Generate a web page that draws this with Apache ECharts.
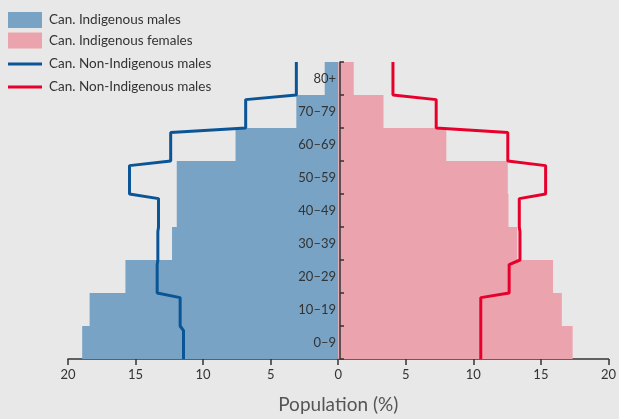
<!DOCTYPE html>
<html>
<head>
<meta charset="utf-8">
<script src="https://cdn.jsdelivr.net/npm/echarts@6/dist/echarts.min.js"></script>
<style>
  html, body { margin: 0; padding: 0; background: #e8e8e8; }
  #chart { width: 619px; height: 419px; }
</style>
</head>
<body>
<div id="chart"></div>
<script>
// age groups, bottom to top
const ageGroups = ['0–9', '10–19', '20–29', '30–39', '40–49', '50–59', '60–69', '70–79', '80+'];
// lower bound of each age group (years), used to place the step lines
const ageLower = [0, 10, 20, 30, 40, 50, 60, 70, 80];
const ageMax = 90;

// population share (%)
const indigenousMales = [18.95, 18.4, 15.75, 12.3, 11.95, 11.95, 7.6, 3.1, 1.0];
const indigenousFemales = [17.35, 16.55, 15.9, 13.25, 12.6, 12.55, 8.0, 3.35, 1.15];
const nonIndigenousMales = [11.45, 11.7, 13.4, 13.35, 13.3, 15.45, 12.4, 6.85, 3.1];
const nonIndigenousFemales = [10.55, 10.55, 12.65, 13.45, 13.4, 15.35, 12.55, 7.25, 4.05];

const legendLabels = {
  indMale: 'Can. Indigenous males',
  indFemale: 'Can. Indigenous females',
  nonIndMale: 'Can. Non-Indigenous males',
  nonIndFemale: 'Can. Non-Indigenous males'
};

const FONT = 'Lato';
const slant = 1.4; // years taken by the diagonal between two steps
const gridLeft = 68, gridRight = 7;
const plotWidth = 619 - gridLeft - gridRight;

// step line from top to bottom, with a short diagonal at each boundary
function stepLine(values, sign) {
  const pts = [];
  for (let i = values.length - 1; i >= 0; i--) {
    const top = i === values.length - 1 ? ageMax : ageLower[i + 1] - slant;
    pts.push([sign * values[i], top]);
    pts.push([sign * values[i], ageLower[i]]);
  }
  return pts;
}

const legendText = { fontFamily: FONT, fontSize: 13.5, color: '#333', padding: [0, 0, 0, 2] };

const chart = echarts.init(document.getElementById('chart'));
chart.setOption({
  backgroundColor: '#e8e8e8',
  textStyle: { fontFamily: FONT },
  animation: false,
  legend: [
    {
      data: ['indMale', 'indFemale'],
      orient: 'vertical',
      left: 8,
      top: 12,
      padding: 0,
      icon: 'rect',
      itemWidth: 34,
      itemHeight: 16,
      itemGap: 4.5,
      selectedMode: false,
      formatter: name => legendLabels[name],
      textStyle: legendText
    },
    {
      data: ['nonIndMale', 'nonIndFemale'],
      orient: 'vertical',
      left: 8,
      top: 57,
      padding: 0,
      icon: 'rect',
      itemWidth: 34,
      itemHeight: 3,
      itemGap: 9,
      selectedMode: false,
      formatter: name => legendLabels[name],
      textStyle: legendText
    }
  ],
  grid: { left: gridLeft, right: gridRight, top: 62, bottom: 57 },
  xAxis: {
    type: 'value',
    min: -20,
    max: 20,
    interval: 5,
    name: 'Population (%)',
    nameLocation: 'middle',
    nameGap: 36,
    nameTextStyle: { fontFamily: FONT, fontSize: 19, color: '#555' },
    axisLine: { show: true, lineStyle: { color: '#333', width: 1.5 } },
    axisTick: { show: true, length: 6, lineStyle: { color: '#333', width: 1.5 } },
    axisLabel: {
      fontFamily: FONT, fontSize: 13, color: '#333', margin: 9,
      formatter: v => Math.abs(v)
    },
    splitLine: { show: false }
  },
  yAxis: [
    {
      type: 'category',
      data: ageGroups,
      position: 'left',
      offset: -plotWidth / 2,
      axisLine: { show: true, onZero: false, lineStyle: { color: '#333', width: 1.5 } },
      axisTick: { show: true, inside: true, length: 4, lineStyle: { color: '#333', width: 1.5 } },
      axisLabel: { fontFamily: FONT, fontSize: 13, color: '#333', margin: 4 },
      splitLine: { show: false },
      z: 10
    },
    {
      type: 'value',
      min: 0,
      max: ageMax,
      show: false
    }
  ],
  series: [
    {
      name: 'indMale',
      type: 'bar',
      data: indigenousMales.map(v => -v),
      barWidth: '100%',
      barGap: '-100%',
      itemStyle: { color: '#78a3c5' }
    },
    {
      name: 'indFemale',
      type: 'bar',
      data: indigenousFemales,
      barWidth: '100%',
      barGap: '-100%',
      itemStyle: { color: '#eba4ae' }
    },
    {
      name: 'nonIndMale',
      type: 'line',
      yAxisIndex: 1,
      data: stepLine(nonIndigenousMales, -1),
      showSymbol: false,
      color: '#0b5597',
      lineStyle: { color: '#0b5597', width: 3 },
      z: 5
    },
    {
      name: 'nonIndFemale',
      type: 'line',
      yAxisIndex: 1,
      data: stepLine(nonIndigenousFemales, 1),
      showSymbol: false,
      color: '#e8002d',
      lineStyle: { color: '#e8002d', width: 3 },
      z: 5
    }
  ]
});
</script>
</body>
</html>
